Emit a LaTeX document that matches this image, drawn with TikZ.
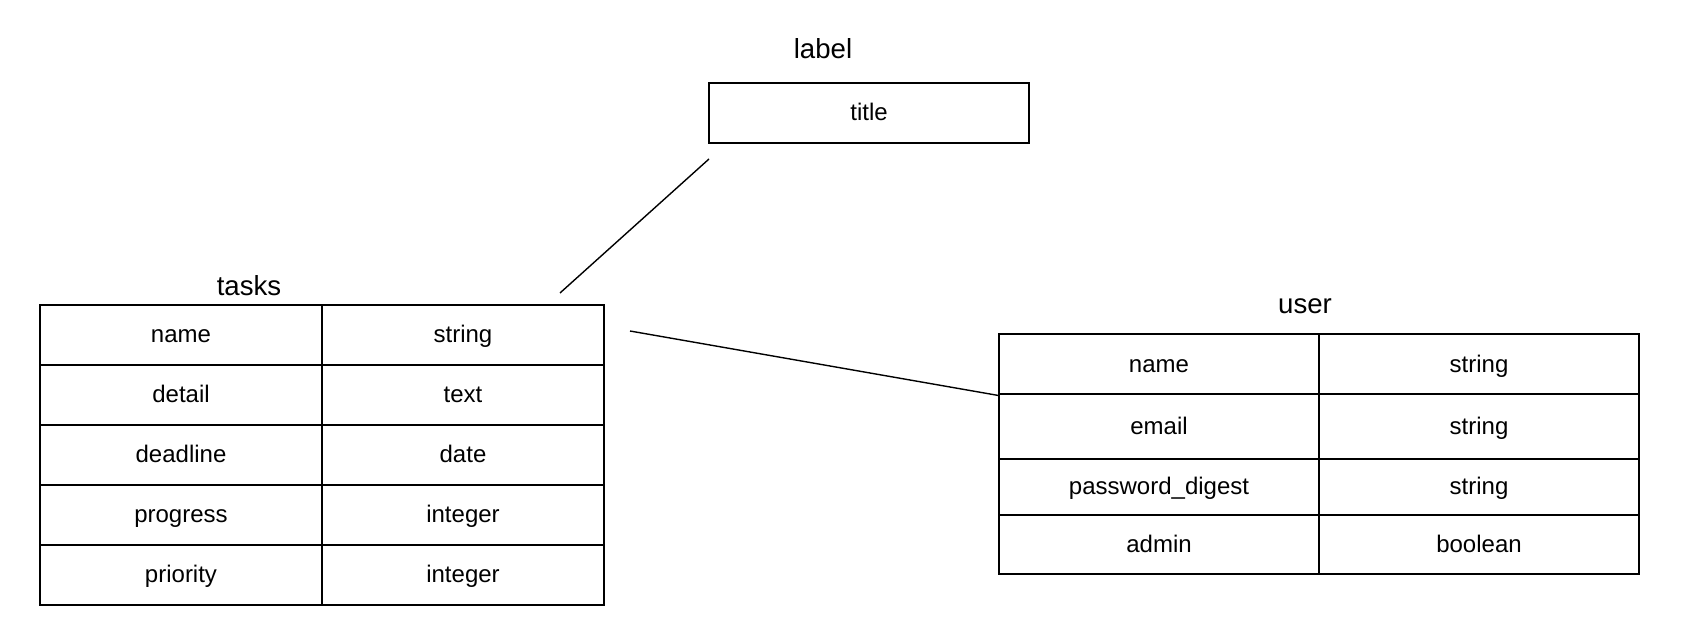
\documentclass[tikz,border=0pt]{standalone}
\usepackage{fontspec}
\setmainfont{Liberation Sans}

\begin{document}
\begin{tikzpicture}[x=0.5pt,y=-0.5pt,
    cell/.style={draw,line width=1pt,inner sep=0pt,text height=10.4pt,text depth=2.5pt,font=\fontsize{12pt}{14pt}\selectfont},
    tablename/.style={inner sep=0pt,font=\fontsize{13.8pt}{16pt}\selectfont},
    link/.style={line width=0.7pt}]
  \useasboundingbox (0,0) rectangle (1708,636);

  % label
  \node[tablename] (label-name) at (823,49) {label};
  \node[cell,minimum width=160pt,minimum height=30pt] (label-1-1) at (869,112.7) {title};

  % tasks
  \node[tablename] (tasks-name) at (249,286) {tasks};
  \foreach \fname/\ftype [count=\i] in {name/string,detail/text,deadline/date,progress/integer,priority/integer}{
    \node[cell,minimum width=141pt,minimum height=29.95pt] (tasks-\i-1) at (181,{305+59.9*(\i-0.5)}) {\fname};
    \node[cell,minimum width=141pt,minimum height=29.95pt] (tasks-\i-2) at (463,{305+59.9*(\i-0.5)}) {\ftype};
  }

  % user
  \node[tablename] (user-name) at (1305,306) {user};
  \foreach \fname/\ftype/\yc/\h [count=\i] in {name/string/364.4/30pt,email/string/426.5/32.15pt,password\_digest/string/487/28.35pt,admin/boolean/544.7/29.35pt}{
    \node[cell,minimum width=160pt,minimum height=\h] (user-\i-1) at (1159,\yc) {\fname};
    \node[cell,minimum width=160pt,minimum height=\h] (user-\i-2) at (1479,\yc) {\ftype};
  }

  % relations
  \coordinate (label-end) at (709,159);
  \coordinate (tasks-end) at (560,293);
  \coordinate (tasks-out) at (630,331);
  \draw[link] (label-end) -- (tasks-end);
  \draw[link] (tasks-out) -- (user-1-1.south west);
\end{tikzpicture}
\end{document}
